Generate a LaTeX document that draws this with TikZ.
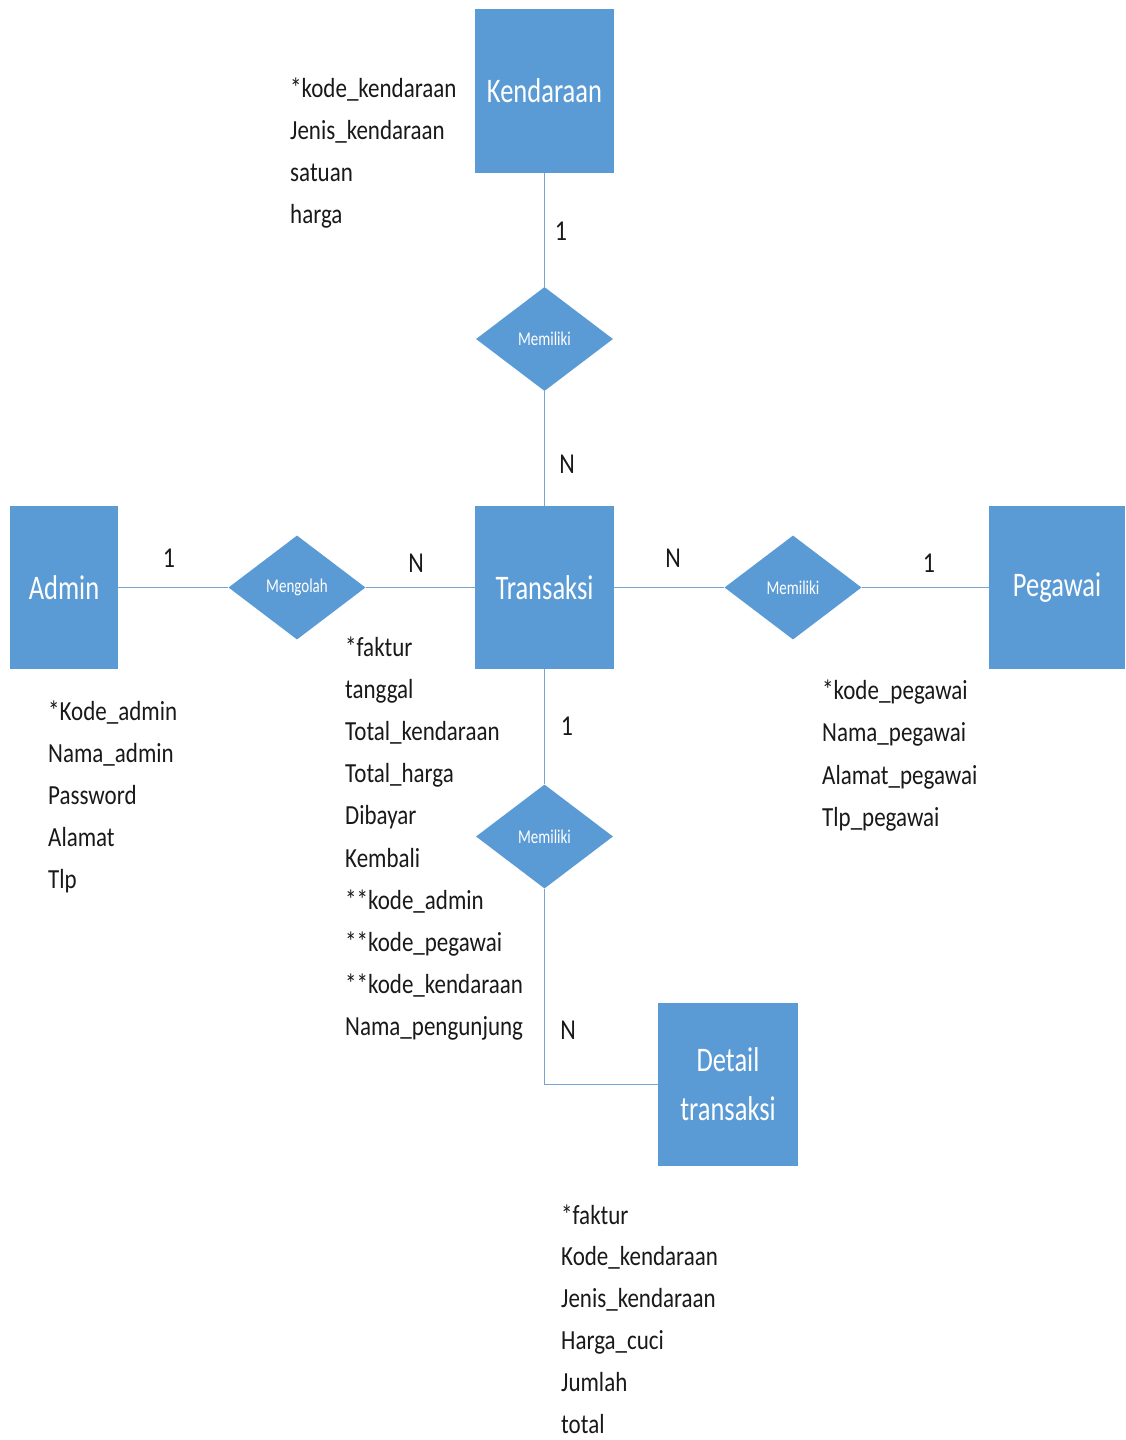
\documentclass[tikz,border=0pt]{standalone}
\usepackage{fontspec}
\setmainfont{Carlito}
\usetikzlibrary{shapes.geometric}
\definecolor{entblue}{RGB}{91,155,213}
\definecolor{linkblue}{RGB}{120,165,205}
\definecolor{txt}{RGB}{25,25,25}
\tikzset{
  entity/.style={draw=none, fill=entblue, inner sep=0pt, text=white, font=\fontsize{26.5}{30}\selectfont, align=center},
  relation/.style={diamond, draw=none, fill=entblue, inner sep=0pt, minimum width=137pt, minimum height=104pt, text=white, font=\fontsize{15}{17}\selectfont},
  attr/.style={anchor=base west, inner sep=0pt, text=txt, font=\fontsize{23}{25}\selectfont},
  card/.style={inner sep=0pt, text=txt, font=\fontsize{24}{26}\selectfont},
  link/.style={draw=linkblue, line width=1.3pt}
}
\newcommand{\tall}[2][1.3]{\scalebox{1}[#1]{#2}}
\begin{document}
\begin{tikzpicture}[x=1pt,y=-1pt]
\useasboundingbox (0,0) rectangle (1125,1440);
\fill[white] (0,0) rectangle (1125,1440);

% entities
\node[entity, minimum width=139pt, minimum height=164pt] (kend) at (544.5,91) {\tall{Kendaraan}};
\node[entity, minimum width=139pt, minimum height=163pt] (trans) at (544.5,587.5) {\tall{Transaksi}};
\node[entity, minimum width=108pt, minimum height=163pt] (admin) at (64,587.5) {\tall{Admin}};
\node[entity, minimum width=136pt, minimum height=163pt] (peg) at (1057,587.5) {\tall{Pegawai}};
\node[entity, minimum width=140pt, minimum height=163pt] (detail) at (728,1084.5) {\tall{Detail}\\[19pt]\tall{transaksi}};

% relations
\node[relation] (m1) at (544.5,339) {\tall{Memiliki}};
\node[relation] (mg) at (297,587.5) {\tall{Mengolah}};
\node[relation] (m2) at (793,587.5) {\tall{Memiliki}};
\node[relation] (m3) at (544.5,836.5) {\tall{Memiliki}};

% connectors
\draw[link] (kend) -- (m1);
\draw[link] (m1) -- (trans);
\draw[link] (admin) -- (mg);
\draw[link] (mg) -- (trans);
\draw[link] (trans) -- (m2);
\draw[link] (m2) -- (peg);
\draw[link] (trans) -- (m3);
\draw[link] (m3.south) |- (detail.west);

% cardinalities
\node[card] (c1) at (561,231) {\tall[1.2]{1}};
\node[card] (c2) at (567,464) {\tall[1.2]{N}};
\node[card] (c3) at (169,558) {\tall[1.2]{1}};
\node[card] (c4) at (416,563) {\tall[1.2]{N}};
\node[card] (c5) at (673,558) {\tall[1.2]{N}};
\node[card] (c6) at (929,563) {\tall[1.2]{1}};
\node[card] (c7) at (567,726) {\tall[1.2]{1}};
\node[card] (c8) at (568,1030) {\tall[1.2]{N}};

% attributes
\foreach \t [count=\i] in {*kode\_kendaraan, Jenis\_kendaraan, satuan, harga}
  \node[attr] (ka\i) at (290,{97+42*(\i-1)}) {\tall[1.2]{\t}};
\foreach \t [count=\i] in {*Kode\_admin, Nama\_admin, Password, Alamat, Tlp}
  \node[attr] (aa\i) at (48,{720+42.2*(\i-1)}) {\tall[1.2]{\t}};
\foreach \t [count=\i] in {*faktur, tanggal, Total\_kendaraan, Total\_harga, Dibayar, Kembali, **kode\_admin, **kode\_pegawai, **kode\_kendaraan, Nama\_pengunjung}
  \node[attr] (ta\i) at (345,{656+42.2*(\i-1)}) {\tall[1.2]{\t}};
\foreach \t [count=\i] in {*kode\_pegawai, Nama\_pegawai, Alamat\_pegawai, Tlp\_pegawai}
  \node[attr] (pa\i) at (822,{699+42.5*(\i-1)}) {\tall[1.2]{\t}};
\foreach \t [count=\i] in {*faktur, Kode\_kendaraan, Jenis\_kendaraan, Harga\_cuci, Jumlah, total}
  \node[attr] (da\i) at (561,{1224+41.8*(\i-1)}) {\tall[1.2]{\t}};
\end{tikzpicture}
\end{document}
